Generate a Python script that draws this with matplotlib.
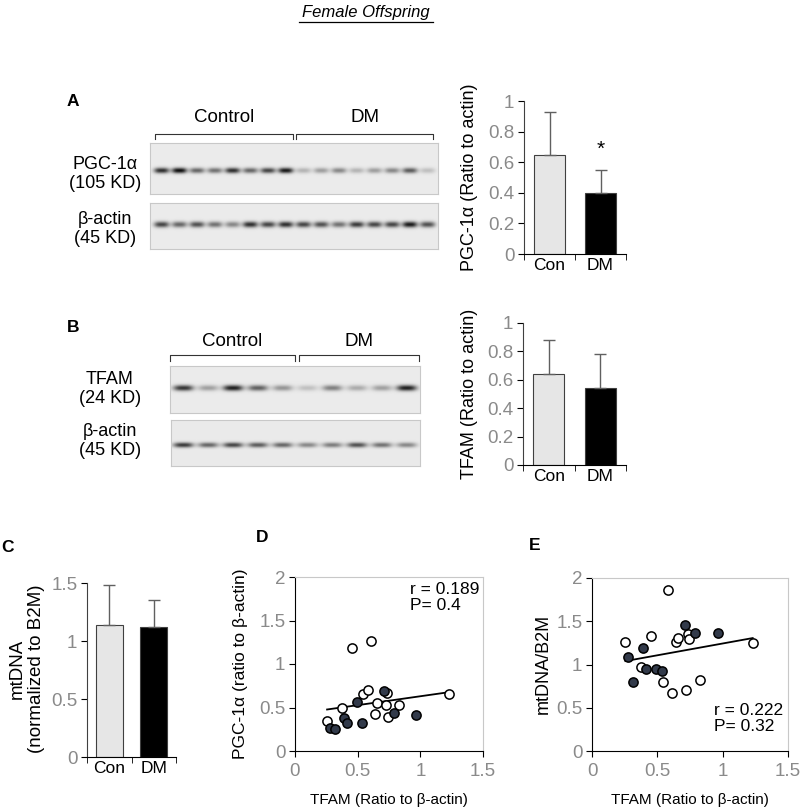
import numpy as np
import matplotlib
matplotlib.use('Agg')
import matplotlib.pyplot as plt
from matplotlib.lines import Line2D

plt.rcParams['font.family'] = ['Liberation Sans', 'DejaVu Sans']

# ---- data ----
groups = ['Con', 'DM']
pgc_mean = [0.65, 0.40]
pgc_err = [0.28, 0.15]
tfam_mean = [0.64, 0.54]
tfam_err = [0.24, 0.24]
mtdna_mean = [1.14, 1.12]
mtdna_err = [0.34, 0.23]

# scatter: open = control, filled = DM
tfam_con = [0.256, 0.372, 0.454, 0.545, 0.583, 0.61, 0.641, 0.657, 0.723, 0.738, 0.742, 0.828, 1.23]
pgc_con = [0.346, 0.50, 1.188, 0.658, 0.704, 1.265, 0.431, 0.554, 0.523, 0.669, 0.388, 0.523, 0.65]
mt_con = [1.265, 0.975, 1.331, 0.793, 1.857, 0.673, 1.265, 1.311, 0.70, 1.354, 1.296, 0.82, 1.253]
tfam_dm = [0.278, 0.317, 0.393, 0.417, 0.493, 0.537, 0.71, 0.79, 0.967]
pgc_dm = [0.269, 0.258, 0.381, 0.327, 0.558, 0.319, 0.692, 0.442, 0.415]
mt_dm = [1.083, 0.80, 1.188, 0.944, 0.944, 0.921, 1.455, 1.366, 1.369]

# western blot band intensities (0..1), lanes left to right
pgc_bands = [0.85, 1.0, 0.6, 0.55, 0.85, 0.6, 0.75, 0.95, 0.25, 0.35, 0.45, 0.25, 0.35, 0.45, 0.65, 0.2]
actin_a_bands = [0.75, 0.6, 0.7, 0.55, 0.45, 0.85, 0.75, 0.85, 0.75, 0.7, 0.55, 0.8, 0.75, 0.75, 0.95, 0.7]
tfam_bands = [0.85, 0.35, 0.95, 0.65, 0.4, 0.2, 0.5, 0.3, 0.35, 0.95]
actin_b_bands = [0.8, 0.6, 0.75, 0.65, 0.6, 0.45, 0.5, 0.7, 0.55, 0.45]

W, H = 800, 811
fig = plt.figure(figsize=(W / 100, H / 100), dpi=100)

GRAY = '#8a8a8a'
TICK_FS = 13.5


def box(x0, y0, x1, y1):
    return [x0 / W, 1 - y1 / H, (x1 - x0) / W, (y1 - y0) / H]


def ftext(x, y, s, **kw):
    fig.text(x / W, 1 - y / H, s, **kw)


def vlabel(x, y, s, fs):
    ftext(x, y, s, fontsize=fs, rotation=90, ha='center', va='center', linespacing=1.2)


def line(xs, ys, **kw):
    fig.add_artist(Line2D([x / W for x in xs], [1 - y / H for y in ys],
                          transform=fig.transFigure, **kw))


def blot(rect, bands, band_y, lane0, pitch, bw, bh):
    # fake gel image built from band intensities
    x0, y0, x1, y1 = rect
    ax = fig.add_axes(box(*rect))
    w, h = int(x1 - x0), int(y1 - y0)
    xx, yy = np.meshgrid(np.arange(w) + 0.5, np.arange(h) + 0.5)
    img = np.full((h, w), 0.92)
    for i, b in enumerate(bands):
        cx = lane0 - x0 + i * pitch
        prof = np.exp(-np.abs((xx - cx) / bw) ** 3) * np.exp(-((yy - (band_y - y0)) / bh) ** 2)
        img -= 0.85 * b * prof
    ax.imshow(np.clip(img, 0, 1), cmap='gray', vmin=0, vmax=1, aspect='auto',
              interpolation='bilinear')
    ax.set_xticks([])
    ax.set_yticks([])
    for s in ax.spines.values():
        s.set_color('#c8c8c8')
        s.set_linewidth(0.8)
    return ax


def bar_panel(rect, means, errs, ymax, yticks):
    ax = fig.add_axes(box(*rect))
    x = np.arange(len(means))
    ax.bar(x, means, width=0.6, color=['#e6e6e6', 'black'], edgecolor='#404040', linewidth=0.8)
    ax.errorbar(x, means, yerr=[[0, 0], errs], fmt='none', ecolor='#606060',
                elinewidth=1, capsize=4, capthick=1)
    ax.set_xlim(-0.5, 1.5)
    ax.set_ylim(0, ymax)
    ax.set_yticks(yticks)
    ax.set_yticklabels(['%g' % v for v in yticks])
    ax.set_xticks(x)
    ax.set_xticklabels(groups)
    ax.set_xticks([-0.5, 0.5, 1.5], minor=True)
    ax.tick_params(axis='x', which='major', length=0, labelsize=12.5, pad=3)
    ax.tick_params(axis='x', which='minor', length=4, direction='out', color='black')
    ax.tick_params(axis='y', length=4, direction='out', labelsize=TICK_FS, labelcolor=GRAY,
                   color='black', pad=3)
    for s in ['top', 'right']:
        ax.spines[s].set_visible(False)
    ax.spines['left'].set_color('#404040')
    return ax


# title
ftext(366, 12, 'Female Offspring', fontsize=12, style='italic', ha='center', va='center')
line([299, 433], [22, 22], color='black', lw=0.9)

# ---- panel A ----
ftext(73, 102, 'A', fontsize=12.5, weight='bold', ha='center', va='center')
blot((150, 143, 438, 194), pgc_bands, 170.5, 161.7, 17.73, 7.5, 2.8)
blot((150, 203, 438, 249), actin_a_bands, 224.5, 161.7, 17.73, 7.5, 3.0)
ftext(105, 174, 'PGC-1α\n(105 KD)', fontsize=13, ha='center', va='center', linespacing=1.2)
ftext(105, 229, 'β-actin\n(45 KD)', fontsize=13, ha='center', va='center', linespacing=1.2)
for xa, xb, lab in [(155, 293, 'Control'), (296, 433, 'DM')]:
    line([xa, xa, xb, xb], [139, 133.5, 133.5, 139], color='#333333', lw=0.8)
    ftext((xa + xb) / 2, 118, lab, fontsize=13.5, ha='center', va='center')

ax = bar_panel((524, 101, 626, 254), pgc_mean, pgc_err, 1, np.arange(0, 1.01, 0.2))
vlabel(470, 177, 'PGC-1α (Ratio to actin)', 13)
ax.text(1, pgc_mean[1] + pgc_err[1] + 0.07, '*', ha='center', va='bottom', fontsize=15)

# ---- panel B ----
ftext(73, 327, 'B', fontsize=12.5, weight='bold', ha='center', va='center')
blot((170, 366, 420, 413), tfam_bands, 388.5, 183.5, 24.8, 10, 2.8)
blot((171, 420, 420, 466), actin_b_bands, 445, 183.5, 24.8, 10, 2.6)
ftext(110, 389, 'TFAM\n(24 KD)', fontsize=13, ha='center', va='center', linespacing=1.2)
ftext(110, 441, 'β-actin\n(45 KD)', fontsize=13, ha='center', va='center', linespacing=1.2)
for xa, xb, lab in [(170, 295, 'Control'), (299, 419, 'DM')]:
    line([xa, xa, xb, xb], [361.5, 355, 355, 361.5], color='#333333', lw=0.8)
    ftext((xa + xb) / 2, 341, lab, fontsize=13.5, ha='center', va='center')

ax = bar_panel((523, 323, 626, 465), tfam_mean, tfam_err, 1, np.arange(0, 1.01, 0.2))
vlabel(470, 394, 'TFAM (Ratio to actin)', 13)

# ---- panel C ----
ftext(8, 548, 'C', fontsize=12.5, weight='bold', ha='center', va='center')
ax = bar_panel((87, 583, 176, 757), mtdna_mean, mtdna_err, 1.5, [0, 0.5, 1, 1.5])
vlabel(27, 669, 'mtDNA\n(normalized to B2M)', 13.5)


# ---- panels D, E (scatter) ----
def scatter_panel(rect, yc, yd, stats, stat_pos):
    ax = fig.add_axes(box(*rect))
    ax.scatter(tfam_con, yc, s=44, facecolor='white', edgecolor='black', linewidth=1.1, zorder=3)
    ax.scatter(tfam_dm, yd, s=44, facecolor='#323a4a', edgecolor='black', linewidth=1.1, zorder=3)
    xs = np.array(tfam_con + tfam_dm)
    ys = np.array(yc + yd)
    k, b = np.polyfit(xs, ys, 1)
    xl = np.array([xs.min(), xs.max()])
    ax.plot(xl, k * xl + b, color='black', lw=1.3, zorder=2)
    ax.set_xlim(0, 1.5)
    ax.set_ylim(0, 2)
    ax.set_xticks([0, 0.5, 1, 1.5])
    ax.set_xticklabels(['0', '0.5', '1', '1.5'])
    ax.set_yticks([0, 0.5, 1, 1.5, 2])
    ax.set_yticklabels(['0', '0.5', '1', '1.5', '2'])
    ax.tick_params(length=4, direction='out', labelsize=TICK_FS, labelcolor=GRAY, color='black')
    ax.tick_params(axis='x', pad=5)
    ax.tick_params(axis='y', pad=3)
    for s in ['top', 'right']:
        ax.spines[s].set_color('#c8c8c8')
    ax.text(stat_pos[0], stat_pos[1], stats, transform=ax.transAxes, fontsize=12.5,
            ha='left', va='top', linespacing=1.1)
    return ax


ftext(262, 538, 'D', fontsize=12.5, weight='bold', ha='center', va='center')
scatter_panel((295, 577, 483, 751), pgc_con, pgc_dm, 'r = 0.189\nP= 0.4', (0.61, 0.97))
vlabel(241, 664, 'PGC-1α (ratio to β-actin)', 12.5)
ftext(389, 800, 'TFAM (Ratio to β-actin)', fontsize=11, ha='center', va='center')

ftext(535, 545, 'E', fontsize=12.5, weight='bold', ha='center', va='center')
scatter_panel((592, 578, 788, 751), mt_con, mt_dm, 'r = 0.222\nP= 0.32', (0.62, 0.28))
vlabel(543, 664, 'mtDNA/B2M', 13)
ftext(690, 800, 'TFAM (Ratio to β-actin)', fontsize=11, ha='center', va='center')

fig.savefig('out.png', dpi=100)
